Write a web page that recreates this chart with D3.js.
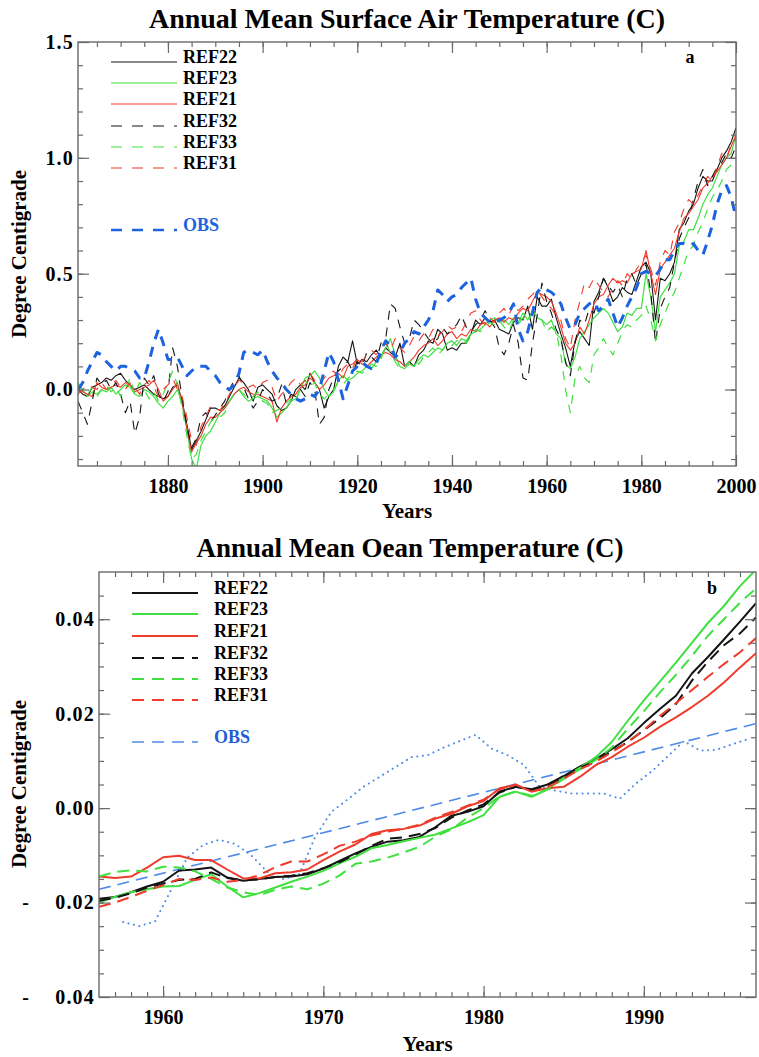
<!DOCTYPE html>
<html>
<head>
<meta charset="utf-8">
<script src="https://cdn.jsdelivr.net/npm/d3@7"></script>
<style>
  html, body { margin: 0; padding: 0; background: #fff; }
  svg text { font-family: "Liberation Serif", "Times New Roman", serif; font-weight: bold; fill: #000; }
</style>
</head>
<body>
<svg id="chart" width="759" height="1057"></svg>
<script>
// ---------- Panel a: annual mean surface air temperature, 1861-2000 ----------
const airStartYear = 1861;

const ref22Air = [
  0.00, -0.02, -0.03, 0.01, 0.02, 0.03, 0.05, 0.04, 0.06, 0.07,
  0.04, 0.02, 0.00, 0.01, 0.02, 0.00, -0.02, -0.03, -0.04, -0.03,
  0.01, 0.02, -0.05, -0.15, -0.26, -0.22, -0.18, -0.13, -0.08, -0.08,
  -0.09, -0.07, -0.03, 0.01, 0.05, 0.03, 0.00, -0.05, 0.01, 0.02,
  0.00, -0.02, -0.07, -0.09, -0.08, -0.05, 0.00, 0.02, 0.00, 0.07,
  0.03, 0.00, -0.08, -0.03, 0.00, 0.10, 0.14, 0.12, 0.21, 0.11,
  0.13, 0.12, 0.15, 0.17, 0.14, 0.18, 0.16, 0.14, 0.20, 0.10,
  0.12, 0.10, 0.15, 0.17, 0.21, 0.20, 0.26, 0.24, 0.17, 0.18,
  0.17, 0.20, 0.20, 0.24, 0.30, 0.28, 0.31, 0.29, 0.30, 0.26,
  0.25, 0.24, 0.29, 0.31, 0.30, 0.36, 0.26, 0.40, 0.36, 0.36,
  0.39, 0.31, 0.24, 0.18, 0.10, 0.21, 0.25, 0.22, 0.19, 0.38,
  0.42, 0.48, 0.44, 0.38, 0.40, 0.44, 0.42, 0.41, 0.47, 0.53,
  0.55, 0.50, 0.30, 0.48, 0.47, 0.50, 0.55, 0.69, 0.72, 0.77,
  0.80, 0.87, 0.92, 0.90, 0.90, 0.95, 1.00, 1.03, 1.07, 1.13
];
const ref23Air = [
  0.02, 0.00, -0.03, -0.01, -0.02, 0.00, -0.01, 0.01, -0.02, 0.00,
  0.02, 0.01, -0.02, -0.03, 0.00, -0.01, -0.03, -0.06, -0.08, -0.05,
  -0.03, 0.00, -0.06, -0.17, -0.30, -0.34, -0.24, -0.20, -0.18, -0.14,
  -0.10, -0.08, -0.05, -0.02, 0.00, -0.03, -0.05, -0.04, -0.03, -0.04,
  -0.05, -0.08, -0.12, -0.10, -0.08, -0.05, -0.04, 0.00, 0.05, 0.06,
  0.08, 0.05, 0.00, -0.03, -0.01, 0.04, 0.06, 0.04, 0.05, 0.07,
  0.08, 0.10, 0.09, 0.12, 0.14, 0.18, 0.22, 0.15, 0.10, 0.09,
  0.11, 0.10, 0.13, 0.15, 0.14, 0.16, 0.18, 0.17, 0.20, 0.21,
  0.19, 0.22, 0.21, 0.24, 0.25, 0.26, 0.28, 0.30, 0.31, 0.29,
  0.30, 0.28, 0.31, 0.29, 0.33, 0.30, 0.34, 0.31, 0.30, 0.28,
  0.30, 0.24, 0.22, 0.11, 0.09, 0.14, 0.22, 0.25, 0.28, 0.31,
  0.33, 0.35, 0.33, 0.29, 0.25, 0.27, 0.33, 0.32, 0.35, 0.35,
  0.50, 0.40, 0.25, 0.40, 0.43, 0.46, 0.50, 0.62, 0.64, 0.69,
  0.69, 0.74, 0.80, 0.84, 0.87, 0.92, 0.97, 1.00, 1.02, 1.10
];
const ref21Air = [
  0.00, -0.01, -0.02, -0.03, 0.03, 0.01, 0.00, 0.01, 0.02, 0.01,
  0.03, 0.02, -0.01, 0.00, 0.01, 0.02, 0.04, 0.00, -0.05, -0.03,
  0.00, 0.03, -0.06, -0.17, -0.27, -0.23, -0.20, -0.15, -0.12, -0.12,
  -0.10, -0.08, -0.05, -0.02, 0.00, 0.01, -0.01, -0.02, -0.02, -0.03,
  -0.04, -0.05, -0.14, -0.08, -0.05, -0.03, -0.02, 0.01, 0.02, 0.05,
  0.03, 0.00, 0.02, 0.05, 0.06, 0.07, 0.05, 0.10, 0.11, 0.13,
  0.11, 0.10, 0.12, 0.14, 0.15, 0.16, 0.15, 0.13, 0.12, 0.10,
  0.12, 0.14, 0.17, 0.19, 0.20, 0.22, 0.19, 0.21, 0.24, 0.25,
  0.22, 0.24, 0.23, 0.26, 0.25, 0.28, 0.29, 0.27, 0.30, 0.31,
  0.29, 0.31, 0.30, 0.33, 0.35, 0.34, 0.38, 0.42, 0.41, 0.40,
  0.38, 0.33, 0.27, 0.20, 0.17, 0.20, 0.27, 0.24, 0.30, 0.37,
  0.40, 0.41, 0.45, 0.48, 0.46, 0.47, 0.46, 0.50, 0.51, 0.52,
  0.60, 0.50, 0.41, 0.52, 0.55, 0.58, 0.61, 0.68, 0.74, 0.76,
  0.79, 0.82, 0.87, 0.89, 0.92, 0.94, 0.97, 1.00, 1.05, 1.10
];
const ref32Air = [
  -0.05, -0.10, -0.15, -0.05, 0.05, 0.02, 0.04, 0.00, 0.03, -0.02,
  -0.10, -0.05, -0.19, -0.12, 0.05, 0.02, 0.06, -0.02, -0.05, -0.01,
  0.18, 0.10, -0.04, -0.16, -0.25, -0.21, -0.12, -0.10, -0.14, -0.11,
  -0.08, -0.05, 0.00, 0.04, 0.06, 0.01, -0.04, -0.08, -0.05, 0.00,
  -0.02, -0.05, -0.04, 0.02, -0.06, -0.02, -0.03, 0.00, -0.03, 0.03,
  0.00, -0.15, -0.12, 0.00, 0.05, 0.08, 0.10, 0.12, 0.08, 0.12,
  0.10, 0.16, 0.14, 0.12, 0.20, 0.22, 0.37, 0.35, 0.27, 0.20,
  0.22, 0.30, 0.28, 0.25, 0.22, 0.20, 0.22, 0.27, 0.24, 0.26,
  0.28, 0.32, 0.27, 0.25, 0.28, 0.30, 0.34, 0.30, 0.27, 0.18,
  0.15, 0.20, 0.28, 0.20, 0.05, 0.04, 0.20, 0.32, 0.46, 0.38,
  0.33, 0.26, 0.22, 0.12, 0.06, 0.20, 0.30, 0.28, 0.35, 0.33,
  0.40, 0.48, 0.45, 0.42, 0.45, 0.40, 0.48, 0.50, 0.45, 0.50,
  0.54, 0.42, 0.20, 0.35, 0.40, 0.44, 0.55, 0.65, 0.70, 0.74,
  0.82, 0.90, 0.95, 0.88, 0.92, 0.96, 0.98, 1.02, 1.00, 1.05
];
const ref33Air = [
  0.03, 0.00, -0.02, 0.01, -0.03, 0.00, 0.02, -0.01, 0.01, -0.03,
  0.00, 0.05, -0.02, 0.03, 0.00, -0.04, -0.01, -0.05, -0.02, 0.03,
  0.08, 0.02, -0.08, -0.20, -0.30, -0.28, -0.22, -0.18, -0.14, -0.12,
  -0.12, -0.10, -0.05, -0.02, 0.00, -0.02, -0.04, -0.03, -0.01, -0.05,
  -0.06, -0.10, -0.09, -0.08, -0.06, -0.04, -0.06, 0.02, 0.04, 0.01,
  0.03, -0.02, -0.04, -0.02, 0.00, 0.03, 0.02, 0.05, 0.06, 0.08,
  0.07, 0.09, 0.11, 0.10, 0.13, 0.20, 0.16, 0.12, 0.09, 0.10,
  0.12, 0.13, 0.11, 0.14, 0.16, 0.18, 0.15, 0.17, 0.20, 0.19,
  0.21, 0.22, 0.20, 0.23, 0.26, 0.25, 0.27, 0.29, 0.28, 0.30,
  0.27, 0.25, 0.30, 0.28, 0.31, 0.29, 0.33, 0.31, 0.30, 0.25,
  0.27, 0.25, 0.15, 0.00, -0.10, 0.05, 0.10, 0.05, 0.03, 0.15,
  0.18, 0.22, 0.18, 0.15, 0.20, 0.25, 0.28, 0.27, 0.30, 0.32,
  0.36, 0.30, 0.21, 0.28, 0.33, 0.38, 0.42, 0.48, 0.54, 0.60,
  0.62, 0.68, 0.72, 0.78, 0.83, 0.86, 0.90, 0.95, 0.97, 1.00
];
const ref31Air = [
  -0.02, 0.00, 0.02, 0.01, 0.00, 0.03, 0.00, 0.02, 0.04, 0.01,
  0.00, 0.03, 0.01, -0.02, 0.02, 0.04, 0.01, -0.03, 0.00, 0.02,
  0.05, 0.00, -0.03, -0.12, -0.22, -0.24, -0.16, -0.12, -0.07, -0.08,
  -0.09, -0.06, -0.02, 0.01, 0.04, 0.03, 0.01, 0.02, 0.00, 0.03,
  0.04, 0.01, -0.05, -0.02, 0.00, 0.03, 0.05, 0.02, 0.04, 0.07,
  0.04, 0.02, 0.05, 0.07, 0.08, 0.05, 0.09, 0.11, 0.09, 0.14,
  0.12, 0.15, 0.17, 0.15, 0.18, 0.20, 0.17, 0.22, 0.18, 0.16,
  0.19, 0.23, 0.21, 0.24, 0.22, 0.26, 0.23, 0.25, 0.28, 0.26,
  0.27, 0.25, 0.29, 0.33, 0.34, 0.30, 0.28, 0.31, 0.29, 0.33,
  0.35, 0.32, 0.37, 0.34, 0.36, 0.39, 0.41, 0.43, 0.40, 0.37,
  0.35, 0.32, 0.30, 0.22, 0.18, 0.30, 0.38, 0.46, 0.44, 0.48,
  0.45, 0.42, 0.40, 0.44, 0.47, 0.45, 0.50, 0.48, 0.52, 0.55,
  0.58, 0.52, 0.45, 0.55, 0.60, 0.58, 0.68, 0.72, 0.78, 0.82,
  0.80, 0.84, 0.88, 0.92, 0.90, 0.96, 1.02, 1.00, 1.06, 1.08
];
const obsAir = [
  0.00, 0.03, 0.08, 0.12, 0.16, 0.15, 0.12, 0.10, 0.08, 0.10,
  0.10, 0.09, 0.08, 0.05, 0.05, 0.12, 0.20, 0.26, 0.20, 0.13,
  0.13, 0.14, 0.10, 0.06, 0.08, 0.10, 0.10, 0.10, 0.08, 0.06,
  0.03, 0.01, 0.00, 0.02, 0.07, 0.16, 0.17, 0.16, 0.15, 0.17,
  0.12, 0.08, 0.05, 0.03, 0.00, -0.02, -0.04, -0.05, -0.04, -0.02,
  -0.03, 0.00, 0.08, 0.16, 0.12, 0.04, -0.04, 0.02, 0.08, 0.10,
  0.12, 0.10, 0.09, 0.11, 0.17, 0.21, 0.19, 0.14, 0.16, 0.20,
  0.22, 0.25, 0.24, 0.27, 0.30, 0.34, 0.43, 0.41, 0.38, 0.40,
  0.41, 0.44, 0.46, 0.48, 0.39, 0.33, 0.31, 0.29, 0.29, 0.30,
  0.31, 0.33, 0.37, 0.26, 0.21, 0.25, 0.33, 0.42, 0.44, 0.43,
  0.42, 0.40, 0.37, 0.31, 0.26, 0.28, 0.33, 0.35, 0.37, 0.38,
  0.34, 0.36, 0.39, 0.33, 0.27, 0.31, 0.36, 0.40, 0.44, 0.50,
  0.51, 0.50, 0.49, 0.52, 0.56, 0.56, 0.60, 0.63, 0.63, 0.62,
  0.63, 0.60, 0.58, 0.64, 0.71, 0.80, 0.86, 0.88, 0.83, 0.74
];

const airXTickLabels = [1880, 1900, 1920, 1940, 1960, 1980, 2000];
const airYTickLabels = [0.0, 0.5, 1.0, 1.5];

// ---------- Panel b: annual mean ocean temperature, 1956-1997 ----------
const oceanStartYear = 1956;

const ref22Ocean = [
  -0.0192, -0.0188, -0.0178, -0.0166, -0.0156, -0.0132, -0.0130, -0.0126, -0.0147, -0.0154,
  -0.0150, -0.0146, -0.0145, -0.0140, -0.0128, -0.0112, -0.0096, -0.0082, -0.0071, -0.0068,
  -0.0061, -0.0040, -0.0016, -0.0008, 0.0004, 0.0035, 0.0045, 0.0040, 0.0050, 0.0068,
  0.0088, 0.0104, 0.0125, 0.0148, 0.0180, 0.0210, 0.0238, 0.0285, 0.0320, 0.0357,
  0.0395, 0.0434
];
const ref23Ocean = [
  -0.0200, -0.0188, -0.0178, -0.0172, -0.0166, -0.0165, -0.0152, -0.0140, -0.0166, -0.0189,
  -0.0180, -0.0168, -0.0156, -0.0145, -0.0133, -0.0117, -0.0103, -0.0085, -0.0078, -0.0070,
  -0.0063, -0.0056, -0.0043, -0.0030, -0.0015, 0.0024, 0.0035, 0.0024, 0.0040, 0.0064,
  0.0085, 0.0108, 0.0140, 0.0185, 0.0228, 0.0268, 0.0308, 0.0350, 0.0392, 0.0428,
  0.0470, 0.0505
];
const ref21Ocean = [
  -0.0145, -0.0148, -0.0145, -0.0126, -0.0104, -0.0101, -0.0110, -0.0110, -0.0130, -0.0149,
  -0.0149, -0.0138, -0.0136, -0.0130, -0.0110, -0.0092, -0.0077, -0.0055, -0.0047, -0.0044,
  -0.0037, -0.0022, -0.0012, 0.0004, 0.0015, 0.0042, 0.0049, 0.0035, 0.0042, 0.0045,
  0.0066, 0.0091, 0.0108, 0.0130, 0.0149, 0.0172, 0.0192, 0.0214, 0.0238, 0.0266,
  0.0298, 0.0328
];
const ref32Ocean = [
  -0.0196, -0.0190, -0.0180, -0.0168, -0.0160, -0.0152, -0.0150, -0.0136, -0.0148, -0.0153,
  -0.0151, -0.0146, -0.0143, -0.0138, -0.0127, -0.0115, -0.0098, -0.0080, -0.0065, -0.0062,
  -0.0055, -0.0042, -0.0020, -0.0005, 0.0008, 0.0033, 0.0045, 0.0038, 0.0048, 0.0065,
  0.0085, 0.0100, 0.0120, 0.0140, 0.0165, 0.0190, 0.0220, 0.0270, 0.0310, 0.0345,
  0.0370, 0.0404
];
const ref33Ocean = [
  -0.0145, -0.0135, -0.0132, -0.0134, -0.0124, -0.0126, -0.0134, -0.0150, -0.0168, -0.0178,
  -0.0184, -0.0173, -0.0166, -0.0172, -0.0160, -0.0143, -0.0118, -0.0113, -0.0105, -0.0094,
  -0.0082, -0.0060, -0.0045, -0.0020, 0.0000, 0.0025, 0.0035, 0.0026, 0.0040, 0.0062,
  0.0082, 0.0102, 0.0128, 0.0168, 0.0205, 0.0245, 0.0282, 0.0322, 0.0365, 0.0400,
  0.0435, 0.0465
];
const ref31Ocean = [
  -0.0209, -0.0200, -0.0188, -0.0175, -0.0163, -0.0150, -0.0152, -0.0147, -0.0156, -0.0152,
  -0.0142, -0.0125, -0.0113, -0.0113, -0.0098, -0.0080, -0.0071, -0.0058, -0.0050, -0.0044,
  -0.0035, -0.0020, -0.0008, 0.0005, 0.0018, 0.0040, 0.0050, 0.0035, 0.0045, 0.0062,
  0.0082, 0.0098, 0.0118, 0.0140, 0.0165, 0.0195, 0.0222, 0.0250, 0.0278, 0.0305,
  0.0330, 0.0360
];
// observed ocean record: mid-year values 1957.5 ... 1996.5
const obsOceanYears = d3.range(1957.5, 1997, 1);
const obsOcean = [
  -0.0241, -0.0250, -0.0240, -0.0173, -0.0105, -0.0078, -0.0067, -0.0076, -0.0100, -0.0135,
  -0.0150, -0.0140, -0.0060, -0.0008, 0.0018, 0.0045, 0.0066, 0.0087, 0.0108, 0.0112,
  0.0128, 0.0142, 0.0155, 0.0126, 0.0112, 0.0092, 0.0045, 0.0037, 0.0031, 0.0031,
  0.0031, 0.0020, 0.0052, 0.0078, 0.0110, 0.0142, 0.0122, 0.0123, 0.0135, 0.0146
];
// linear trend of the observed record: [year, value] end points
const obsOceanTrend = [[1956, -0.0172], [1997, 0.0179]];

const oceanXTickLabels = [1960, 1970, 1980, 1990];
const oceanYTickLabels = [-0.04, -0.02, 0.00, 0.02, 0.04];

// ---------- styling ----------
const BLACK = "#141414", GREEN = "#3fe03f", RED = "#ee3b2b";
const BLUE_A = "#1d63e0", BLUE_B = "#4e8ae6";

const svg = d3.select("#chart");

function withYears(values, start) {
  return values.map((v, i) => [start + i, v]);
}

function drawPanel(p) {
  const x = d3.scaleLinear().domain(p.xDomain).range([p.left, p.right]);
  const y = d3.scaleLinear().domain(p.yDomain).range([p.bottom, p.top]);
  const g = svg.append("g");

  // title
  g.append("text")
    .attr("x", p.titleX).attr("y", p.titleY)
    .attr("text-anchor", "middle")
    .style("font-size", p.titleSize + "px")
    .text(p.title);

  // clip region for the data lines
  const clipId = "clip-" + p.id;
  svg.append("clipPath").attr("id", clipId)
    .append("rect")
    .attr("x", p.left).attr("y", p.top)
    .attr("width", p.right - p.left).attr("height", p.bottom - p.top);

  // series
  const line = d3.line().x(d => x(d[0])).y(d => y(d[1]));
  const lines = g.append("g").attr("clip-path", `url(#${clipId})`);
  p.series.forEach(s => {
    lines.append("path")
      .datum(s.points)
      .attr("fill", "none")
      .attr("stroke", s.color)
      .attr("stroke-width", s.width)
      .attr("stroke-dasharray", s.dash || null)
      .attr("stroke-linecap", s.cap || "butt")
      .attr("stroke-linejoin", "round")
      .attr("d", line);
  });

  // axes: ticks point inward on all four sides
  const axisColor = "#6a6a6a";
  const styleAxis = sel => {
    sel.select(".domain").remove();
    sel.selectAll(".tick line").attr("stroke", axisColor).attr("stroke-width", 1.2);
    sel.selectAll(".tick text").style("font-size", p.tickSize + "px").attr("fill", "#000");
  };
  const minorX = p.xMinor, minorY = p.yMinor;

  g.append("g").attr("transform", `translate(0,${p.bottom})`)
    .call(d3.axisBottom(x).tickValues(minorX).tickSize(-p.minorLen).tickFormat(""))
    .call(styleAxis);
  g.append("g").attr("transform", `translate(0,${p.bottom})`)
    .call(d3.axisBottom(x).tickValues(p.xLabels).tickSize(-p.majorLen).tickPadding(p.xPad).tickFormat(d3.format("d")))
    .call(styleAxis);
  g.append("g").attr("transform", `translate(0,${p.top})`)
    .call(d3.axisTop(x).tickValues(minorX).tickSize(-p.minorLen).tickFormat(""))
    .call(styleAxis);
  g.append("g").attr("transform", `translate(0,${p.top})`)
    .call(d3.axisTop(x).tickValues(p.xLabels).tickSize(-p.majorLen).tickFormat(""))
    .call(styleAxis);

  g.append("g").attr("transform", `translate(${p.left},0)`)
    .call(d3.axisLeft(y).tickValues(minorY).tickSize(-p.minorLen).tickFormat(""))
    .call(styleAxis);
  const yLab = g.append("g").attr("transform", `translate(${p.left},0)`)
    .call(d3.axisLeft(y).tickValues(p.yLabels).tickSize(-p.majorLen).tickPadding(p.yPad)
      .tickFormat(d => p.yFormat(Math.abs(d))))
    .call(styleAxis);
  yLab.selectAll(".tick text").style("letter-spacing", "1.2px");
  // negative labels: a plain hyphen set well apart from the digits
  yLab.selectAll(".tick").filter(d => d < 0).append("text")
    .attr("x", -p.yPad - p.minusOffset).attr("dy", "0.32em")
    .attr("text-anchor", "end")
    .style("font-size", p.tickSize + "px")
    .text("-");
  g.append("g").attr("transform", `translate(${p.right},0)`)
    .call(d3.axisRight(y).tickValues(minorY).tickSize(-p.minorLen).tickFormat(""))
    .call(styleAxis);
  g.append("g").attr("transform", `translate(${p.right},0)`)
    .call(d3.axisRight(y).tickValues(p.yLabels).tickSize(-p.majorLen).tickFormat(""))
    .call(styleAxis);

  // frame
  g.append("rect")
    .attr("x", p.left).attr("y", p.top)
    .attr("width", p.right - p.left).attr("height", p.bottom - p.top)
    .attr("fill", "none").attr("stroke", axisColor).attr("stroke-width", 1.4);

  // axis titles
  g.append("text")
    .attr("x", (p.left + p.right) / 2).attr("y", p.xTitleY)
    .attr("text-anchor", "middle")
    .style("font-size", p.axisTitleSize + "px")
    .text("Years");
  g.append("text")
    .attr("transform", `translate(${p.yTitleX},${p.yTitleMid}) rotate(-90)`)
    .attr("text-anchor", "middle")
    .style("font-size", p.axisTitleSize + "px")
    .text("Degree Centigrade");

  // panel letter
  g.append("text")
    .attr("x", p.letterX).attr("y", p.letterY)
    .attr("text-anchor", "middle")
    .style("font-size", p.legendSize + "px")
    .text(p.letter);

  // legend
  const lg = g.append("g");
  p.series.filter(s => s.label).forEach(s => {
    lg.append("line")
      .attr("x1", p.legendX1).attr("x2", p.legendX2)
      .attr("y1", s.legendY).attr("y2", s.legendY)
      .attr("stroke", s.color)
      .attr("stroke-width", s.legendWidth || s.width)
      .attr("stroke-dasharray", s.legendDash || s.dash || null);
    lg.append("text")
      .attr("x", p.legendTextX).attr("y", s.legendY + p.legendTextDy)
      .style("font-size", p.legendSize + "px")
      .style("fill", s.textColor || "#000")
      .text(s.label);
  });
}

// ---------- panel a ----------
const airRowY = [62, 83, 104, 126, 147, 168, 230];
drawPanel({
  id: "air",
  left: 78, right: 736, top: 42, bottom: 466,
  xDomain: [1861, 2000], yDomain: [-0.33, 1.5],
  xLabels: airXTickLabels,
  xMinor: d3.range(1865, 2000, 5),
  yLabels: airYTickLabels,
  yMinor: d3.range(-3, 15).map(k => k / 10),
  yFormat: d3.format(".1f"),
  majorLen: 11, minorLen: 5, xPad: 13, yPad: 4, minusOffset: 36,
  tickSize: 20,
  title: "Annual Mean Surface Air Temperature (C)", titleX: 407, titleY: 28, titleSize: 28,
  xTitleY: 518, yTitleX: 26, yTitleMid: 254, axisTitleSize: 21,
  letter: "a", letterX: 690, letterY: 63,
  legendX1: 111, legendX2: 177, legendTextX: 183, legendTextDy: 1, legendSize: 18,
  series: [
    { label: "REF22", points: withYears(ref22Air, airStartYear), color: BLACK, width: 1.1, legendY: airRowY[0] },
    { label: "REF23", points: withYears(ref23Air, airStartYear), color: GREEN, width: 1.2, legendY: airRowY[1] },
    { label: "REF21", points: withYears(ref21Air, airStartYear), color: RED, width: 1.1, legendY: airRowY[2] },
    { label: "REF32", points: withYears(ref32Air, airStartYear), color: BLACK, width: 1.1, dash: "9,8", legendDash: "11,10", legendY: airRowY[3] },
    { label: "REF33", points: withYears(ref33Air, airStartYear), color: GREEN, width: 1.2, dash: "9,8", legendDash: "11,10", legendY: airRowY[4] },
    { label: "REF31", points: withYears(ref31Air, airStartYear), color: RED, width: 1.1, dash: "9,8", legendDash: "11,10", legendY: airRowY[5] },
    { label: "OBS", points: withYears(obsAir, airStartYear), color: BLUE_A, width: 3, dash: "10,8", legendDash: "11,10", legendWidth: 2.5, textColor: BLUE_A, legendY: airRowY[6] }
  ]
});

// ---------- panel b ----------
const oceanRowY = [593, 614, 636, 658, 679, 700, 742];
drawPanel({
  id: "ocean",
  left: 99, right: 756, top: 572, bottom: 997,
  xDomain: [1956, 1997], yDomain: [-0.04, 0.05],
  xLabels: oceanXTickLabels,
  xMinor: d3.range(1957, 1997, 1),
  yLabels: oceanYTickLabels,
  yMinor: d3.range(-7, 10).map(k => k * 0.005),
  yFormat: d3.format(".2f"),
  majorLen: 11, minorLen: 5, xPad: 13, yPad: 4, minusOffset: 66,
  tickSize: 20,
  title: "Annual Mean Oean Temperature (C)", titleX: 410, titleY: 557, titleSize: 27,
  xTitleY: 1051, yTitleX: 26, yTitleMid: 784, axisTitleSize: 21,
  letter: "b", letterX: 712, letterY: 594,
  legendX1: 132, legendX2: 198, legendTextX: 214, legendTextDy: 1, legendSize: 18,
  series: [
    { label: null, points: obsOceanYears.map((yr, i) => [yr, obsOcean[i]]), color: BLUE_B, width: 2, dash: "0.1,5.5", cap: "round" },
    { label: "OBS", points: obsOceanTrend, color: BLUE_B, width: 1.6, dash: "12,7", legendDash: "12,8", textColor: "#1f5fd8", legendY: oceanRowY[6] },
    { label: "REF22", points: withYears(ref22Ocean, oceanStartYear), color: BLACK, width: 2, legendY: oceanRowY[0] },
    { label: "REF23", points: withYears(ref23Ocean, oceanStartYear), color: GREEN, width: 2, legendY: oceanRowY[1] },
    { label: "REF21", points: withYears(ref21Ocean, oceanStartYear), color: RED, width: 2, legendY: oceanRowY[2] },
    { label: "REF32", points: withYears(ref32Ocean, oceanStartYear), color: BLACK, width: 2, dash: "12,7", legendDash: "12,8", legendY: oceanRowY[3] },
    { label: "REF33", points: withYears(ref33Ocean, oceanStartYear), color: GREEN, width: 2, dash: "12,7", legendDash: "12,8", legendY: oceanRowY[4] },
    { label: "REF31", points: withYears(ref31Ocean, oceanStartYear), color: RED, width: 2, dash: "12,7", legendDash: "12,8", legendY: oceanRowY[5] }
  ]
});
</script>
</body>
</html>
